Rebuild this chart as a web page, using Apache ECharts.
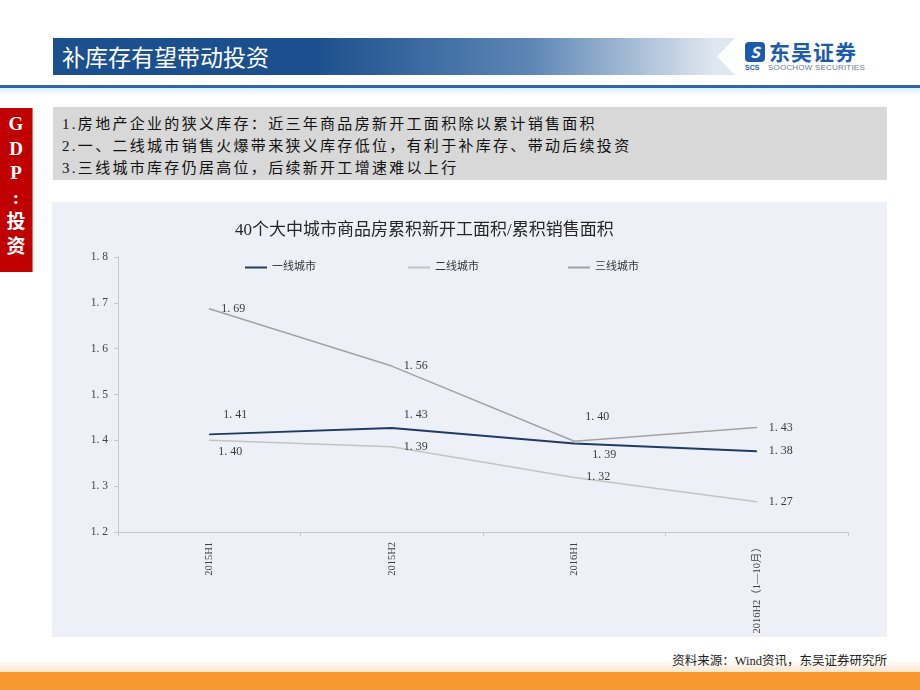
<!DOCTYPE html>
<html><head><meta charset="utf-8">
<script src="https://cdn.jsdelivr.net/npm/echarts@6/dist/echarts.min.js"></script>
<style>
html,body{margin:0;padding:0;background:#fff;}
#page{position:relative;width:920px;height:690px;overflow:hidden;background:#fff;font-family:'Noto Sans CJK SC',sans-serif;}
.abs{position:absolute;}
#bar{left:53px;top:38px;width:682px;height:37px;background:linear-gradient(to right,#1b4f8d 0%,#1b4f8d 38%,#5d86b5 70%,#dfe7f0 97%);clip-path:polygon(0 0,100% 0,calc(100% - 18px) 50%,100% 100%,0 100%);}
#barTitle{left:62px;top:40px;color:#fff;font-size:23px;line-height:32px;letter-spacing:0px;font-family:'Noto Sans CJK SC',sans-serif;}
#rule{left:0;top:85px;width:920px;height:3px;background:#3566a6;}
#glow{left:0;top:88px;width:920px;height:8px;background:linear-gradient(to bottom,#d9f2f9,#ffffff);}
#logoIcon{left:745px;top:42px;width:20px;height:20px;border-radius:4px;background:#1d5aa8;color:#fff;font-size:15px;line-height:20px;text-align:center;font-weight:bold;font-style:italic;}
#logoCn{left:769px;top:37px;color:#1d5aa8;font-size:21px;font-weight:bold;line-height:28px;letter-spacing:1px;}
#logoEn{left:768px;top:63px;color:#6b7b8c;font-size:8px;line-height:10px;font-family:'Liberation Sans',sans-serif;letter-spacing:0.2px;}
#logoScs{left:745px;top:64px;color:#1d5aa8;font-size:7px;line-height:8px;font-weight:bold;font-family:'Liberation Sans',sans-serif;}
#red{left:0;top:108px;width:32px;height:164px;background:#c00000;border-right:1px solid #e07070;}
#redText{left:0;top:112px;width:32px;color:#fff;font-size:19px;line-height:24.5px;text-align:center;font-weight:bold;font-family:'Liberation Serif','Noto Sans CJK SC',serif;}
#box{left:53px;top:107px;width:834px;height:73px;background:#d8d8d8;}
#boxText{left:62px;top:113px;color:#111;font-size:15px;line-height:22px;letter-spacing:2.3px;font-family:'Liberation Serif','Noto Sans CJK SC',serif;}
#chart{left:52px;top:202px;width:835px;height:435px;}
#src{left:560px;top:652px;width:327px;text-align:right;color:#222;font-size:12.5px;line-height:18px;font-family:'Liberation Serif','Noto Sans CJK SC',serif;}
#footGlow{left:0;top:660px;width:920px;height:12px;background:linear-gradient(to bottom,#ffffff,#fde6cf);}
#foot{left:0;top:672px;width:920px;height:18px;background:#f7992f;}
</style></head>
<body>
<div id="page">
  <div id="bar" class="abs"></div>
  <div id="barTitle" class="abs">补库存有望带动投资</div>
  <div id="logoIcon" class="abs">S</div>
  <div id="logoCn" class="abs">东吴证券</div>
  <div id="logoScs" class="abs">SCS</div>
  <div id="logoEn" class="abs">SOOCHOW SECURITIES</div>
  <div id="rule" class="abs"></div>
  <div id="glow" class="abs"></div>
  <div id="red" class="abs"></div>
  <div id="redText" class="abs">G<br>D<br>P<br>:<br>投<br>资</div>
  <div id="box" class="abs"></div>
  <div id="boxText" class="abs">1.房地产企业的狭义库存：近三年商品房新开工面积除以累计销售面积<br>2.一、二线城市销售火爆带来狭义库存低位，有利于补库存、带动后续投资<br>3.三线城市库存仍居高位，后续新开工增速难以上行</div>
  <div id="chart" class="abs"></div>
  <div id="footGlow" class="abs"></div>
  <div id="foot" class="abs"></div>
  <div id="src" class="abs">资料来源：Wind资讯，东吴证券研究所</div>
</div>
<script>
// ---- data ----
const chartTitle = '40个大中城市商品房累积新开工面积/累积销售面积';
const categories = ['2015H1', '2015H2', '2016H1', '2016H2（1—10月）'];
const seriesNames = ['一线城市', '二线城市', '三线城市'];
const tier1 = [1.413, 1.427, 1.393, 1.376];
const tier2 = [1.400, 1.386, 1.319, 1.266];
const tier3 = [1.687, 1.562, 1.398, 1.428];
const yTicks = [1.2, 1.3, 1.4, 1.5, 1.6, 1.7, 1.8];

// ---- styling (label offsets in px) ----
const offsets1 = [[26,-20],[24,-13],[30,11],[24,0]];
const offsets2 = [[21,12],[24,0],[24,-1],[24,0]];
const offsets3 = [[24,0],[24,0],[23,-24],[24,0]];
const colors = ['#1f3b63', '#c3c3c3', '#a2a2a2'];
const widths = [2, 1.5, 1.5];

const serif = "'Liberation Serif','Noto Sans CJK SC',serif";
function fmt(v){ const s = v.toFixed(2); return s.replace('.', '. '); }

function makeSeries(idx, values, offs){
  return {
    name: seriesNames[idx], type: 'line',
    data: values.map((v,i)=>({value:v, label:{offset:offs[i]}})),
    symbol: 'circle', symbolSize: 1, showSymbol: true,
    lineStyle: {color: colors[idx], width: widths[idx]},
    itemStyle: {color: colors[idx]},
    label: {show:true, position:'inside', align:'center', verticalAlign:'middle',
      formatter: p=>fmt(p.value), fontFamily: serif, fontSize: 12, color:'#3a3a3a'},
    emphasis: {disabled: true},
    z: idx===0 ? 5 : 3
  };
}

const chart = echarts.init(document.getElementById('chart'), null, {renderer:'canvas'});
const legendBase = {icon:'rect', itemWidth:22, itemHeight:2, itemGap:6, top:55,
  textStyle:{fontFamily:serif, fontSize:11, color:'#333'}};
chart.setOption({
  animation: false,
  backgroundColor: '#edf1f7',
  textStyle: {fontFamily: serif},
  title: {text: chartTitle, left: 178, top: 15,
    textStyle:{fontFamily:serif, fontSize:17, fontWeight:'normal', color:'#262626'}},
  legend: [
    Object.assign({}, legendBase, {left:188, data:[seriesNames[0]]}),
    Object.assign({}, legendBase, {left:351, data:[seriesNames[1]]}),
    Object.assign({}, legendBase, {left:511, data:[seriesNames[2]]})
  ],
  grid: {left:66, right:39, top:55, bottom:105, containLabel:false},
  xAxis: {type:'category', data: categories, boundaryGap:true,
    axisLine:{lineStyle:{color:'#c4c8ce'}},
    axisTick:{show:true, length:4, lineStyle:{color:'#c4c8ce'}},
    axisLabel:{rotate:90, margin:10, fontFamily:serif, fontSize:10.5, color:'#404040'}},
  yAxis: {type:'value', min: yTicks[0], max: yTicks[yTicks.length-1], interval: 0.1,
    axisLine:{show:true, lineStyle:{color:'#c4c8ce'}},
    axisTick:{show:true, length:4, lineStyle:{color:'#c4c8ce'}},
    splitLine:{show:false},
    axisLabel:{margin:10, fontFamily:serif, fontSize:11.5, color:'#404040',
      formatter: v=>v.toFixed(1).replace('.', '. ')}},
  series: [makeSeries(0, tier1, offsets1), makeSeries(1, tier2, offsets2), makeSeries(2, tier3, offsets3)]
});
</script>
</body></html>
